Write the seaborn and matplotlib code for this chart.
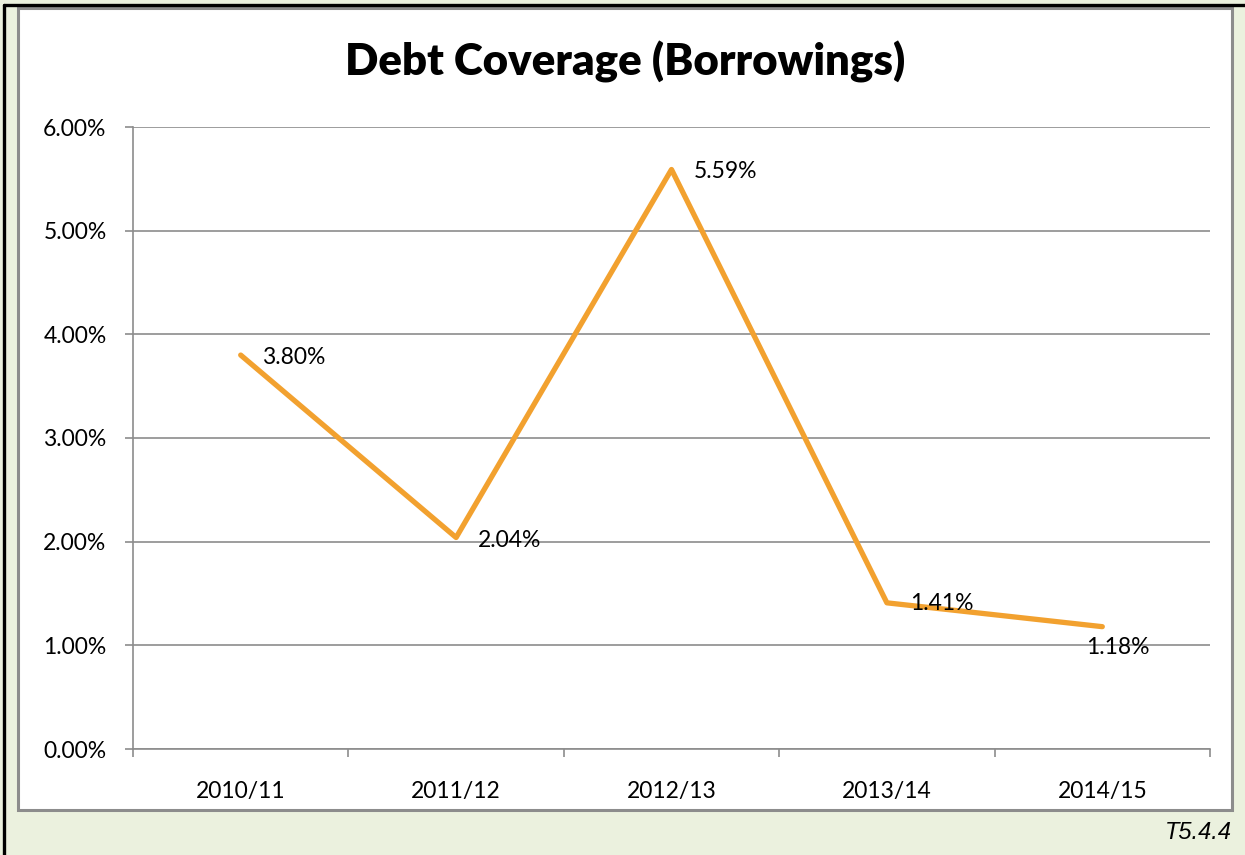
import matplotlib
matplotlib.use("Agg")
import matplotlib.pyplot as plt
from matplotlib.patches import Rectangle
from matplotlib.lines import Line2D
from matplotlib.ticker import FuncFormatter, MultipleLocator
import seaborn as sns
import pandas as pd

periods = ["2010/11", "2011/12", "2012/13", "2013/14", "2014/15"]
coverage = [3.80, 2.04, 5.59, 1.41, 1.18]
label_offsets = [(21, -2), (22, -3), (22, -2), (23, -1), (-16, -21)]

sns.set_theme(style="white")
plt.rcParams["font.family"] = ["Lato", "DejaVu Sans"]

W, H = 1245, 855
fig = plt.figure(figsize=(W / 100, H / 100), dpi=100)
fig.patch.set_facecolor("#EBF1DE")

# white chart panel with grey frame
fig.patches.append(Rectangle((18 / W, 1 - 810 / H), (1232 - 18) / W, (810 - 8) / H,
                             transform=fig.transFigure, facecolor="white",
                             edgecolor="#8C8C8C", linewidth=2.2, zorder=-5))
# dark outer border along top and left
fig.lines.append(Line2D([4 / W, 4 / W], [0, 1 - 5 / H], transform=fig.transFigure,
                        color="black", linewidth=2.4, zorder=-4))
fig.lines.append(Line2D([4 / W, 1], [1 - 5 / H, 1 - 5 / H], transform=fig.transFigure,
                        color="black", linewidth=2.4, zorder=-4))

ax = fig.add_axes([133 / W, 1 - 749 / H, (1210 - 133) / W, (749 - 127) / H])
ax.set_zorder(2)
ax.set_facecolor("none")

df = pd.DataFrame({"period": periods, "coverage": coverage})
sns.lineplot(data=df, x="period", y="coverage", ax=ax, color="#F2A12F",
             linewidth=3.8, sort=False, zorder=3)

ax.set_xlim(-0.5, len(periods) - 0.5)
ax.set_ylim(0, 6)
ax.yaxis.set_major_locator(MultipleLocator(1))
ax.yaxis.set_major_formatter(FuncFormatter(lambda v, _: f"{v:.2f}%"))
ax.set_xticks(range(len(periods)))
ax.set_xticklabels(periods)
ax.set_xticks([i - 0.5 for i in range(len(periods) + 1)], minor=True)

grid_c = "#8C8C8C"
ax.grid(axis="y", color=grid_c, linewidth=1.2, zorder=1)
ax.set_axisbelow(True)
for s in ["top", "right"]:
    ax.spines[s].set_visible(False)
for s in ["left", "bottom"]:
    ax.spines[s].set_color(grid_c)
    ax.spines[s].set_linewidth(1.2)

fs = 16.5
ax.tick_params(axis="y", which="major", left=True, length=6, width=1.2, color=grid_c,
               pad=13, labelsize=fs, labelcolor="black")
ax.tick_params(axis="x", which="major", bottom=False, pad=17, labelsize=fs,
               labelcolor="black")
ax.tick_params(axis="x", which="minor", bottom=True, length=6, width=1.2, color=grid_c)
ax.set_xlabel("")
ax.set_ylabel("")

for i, (v, (dx, dy)) in enumerate(zip(coverage, label_offsets)):
    ax.annotate(f"{v:.2f}%", (i, v), xytext=(dx, dy), textcoords="offset pixels",
                ha="left", va="center", fontsize=fs, color="black", zorder=4)

fig.text(625 / W, 1 - 62 / H, "Debt Coverage (Borrowings)", ha="center", va="center",
         fontsize=31.5, fontweight="heavy", color="black")
fig.text(1232 / W, 1 - 832 / H, "T5.4.4", ha="right", va="center", fontsize=17,
         style="italic", family=["Liberation Sans", "DejaVu Sans"], color="black")

fig.savefig("out.png", dpi=100, facecolor=fig.get_facecolor())
